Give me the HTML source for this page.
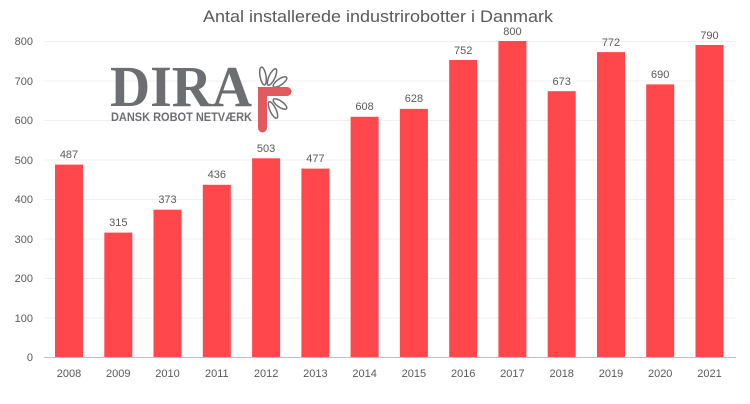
<!DOCTYPE html>
<html><head><style>body{margin:0;background:#fff}svg{display:block}text{font-family:"Liberation Sans",sans-serif;fill:#595959}</style></head><body>
<svg width="750" height="404" xmlns="http://www.w3.org/2000/svg">
<text x="378" y="22" font-size="17" text-anchor="middle" textLength="350" lengthAdjust="spacingAndGlyphs">Antal installerede industrirobotter i Danmark</text>
<g stroke="#f0f0f0" stroke-width="1">
<line x1="44" x2="736" y1="41.5" y2="41.5"/><line x1="44" x2="736" y1="81" y2="81"/><line x1="44" x2="736" y1="120.5" y2="120.5"/><line x1="44" x2="736" y1="160" y2="160"/><line x1="44" x2="736" y1="199.5" y2="199.5"/><line x1="44" x2="736" y1="239" y2="239"/><line x1="44" x2="736" y1="278.5" y2="278.5"/><line x1="44" x2="736" y1="318" y2="318"/>
</g>
<line x1="44" x2="736" y1="357.5" y2="357.5" stroke="#bfbfbf"/>
<g font-size="11" text-anchor="end">
<text x="33" y="45">800</text><text x="33" y="85">700</text><text x="33" y="124">600</text><text x="33" y="164">500</text><text x="33" y="203">400</text><text x="33" y="243">300</text><text x="33" y="282">200</text><text x="33" y="322">100</text><text x="33" y="361">0</text>
</g>
<g fill="#ff474c">
<rect x="55" y="164.6" width="28" height="192.4"/>
<rect x="104.3" y="232.6" width="28" height="124.4"/>
<rect x="153.5" y="209.7" width="28" height="147.3"/>
<rect x="202.8" y="184.8" width="28" height="172.2"/>
<rect x="252.1" y="158.3" width="28" height="198.7"/>
<rect x="301.4" y="168.6" width="28" height="188.4"/>
<rect x="350.6" y="116.8" width="28" height="240.2"/>
<rect x="399.9" y="108.9" width="28" height="248.1"/>
<rect x="449.2" y="60" width="28" height="297"/>
<rect x="498.4" y="41" width="28" height="316"/>
<rect x="547.7" y="91.2" width="28" height="265.8"/>
<rect x="597" y="52.1" width="28" height="304.9"/>
<rect x="646.2" y="84.4" width="28" height="272.6"/>
<rect x="695.5" y="45" width="28" height="312"/>
</g>
<g font-size="11" text-anchor="middle">
<text x="69" y="158">487</text><text x="118.3" y="226">315</text><text x="167.5" y="203">373</text><text x="216.8" y="178">436</text><text x="266.1" y="152">503</text><text x="315.4" y="162">477</text><text x="364.6" y="110">608</text><text x="413.9" y="102">628</text><text x="463.2" y="54">752</text><text x="512.4" y="35">800</text><text x="561.7" y="85">673</text><text x="611" y="46">772</text><text x="660.2" y="78">690</text><text x="709.5" y="39">790</text>
</g>
<g font-size="11" text-anchor="middle">
<text x="69" y="377">2008</text><text x="118.3" y="377">2009</text><text x="167.5" y="377">2010</text><text x="216.8" y="377">2011</text><text x="266.1" y="377">2012</text><text x="315.4" y="377">2013</text><text x="364.6" y="377">2014</text><text x="413.9" y="377">2015</text><text x="463.2" y="377">2016</text><text x="512.4" y="377">2017</text><text x="561.7" y="377">2018</text><text x="611" y="377">2019</text><text x="660.2" y="377">2020</text><text x="709.5" y="377">2021</text>
</g>
<text x="110" y="106" font-size="58" font-weight="bold" style="fill:#6d6e71;font-family:'Liberation Serif',serif" textLength="142" lengthAdjust="spacingAndGlyphs">DIRA</text>
<text x="111" y="121" font-size="12" font-weight="bold" style="fill:#6d6e71;font-family:'Liberation Sans',sans-serif" textLength="141" lengthAdjust="spacingAndGlyphs">DANSK ROBOT NETVÆRK</text>
<g fill="none" stroke="#6d6e71" stroke-width="1.5">
<ellipse cx="263" cy="76" rx="3" ry="9" transform="rotate(-10 263 76)"/>
<ellipse cx="272" cy="77" rx="3" ry="9" transform="rotate(25 272 77)"/>
<ellipse cx="280" cy="82" rx="3" ry="8" transform="rotate(55 280 82)"/>
<ellipse cx="280" cy="104" rx="3" ry="8" transform="rotate(-55 280 104)"/>
<ellipse cx="273" cy="110" rx="3" ry="9" transform="rotate(-25 273 110)"/>
</g>
<path d="M258 87 H287 a3 3 0 0 1 0 9 H267 V128 a4.5 4.5 0 0 1 -9 0 Z" fill="#e05a5f"/>
</svg>
</body></html>
